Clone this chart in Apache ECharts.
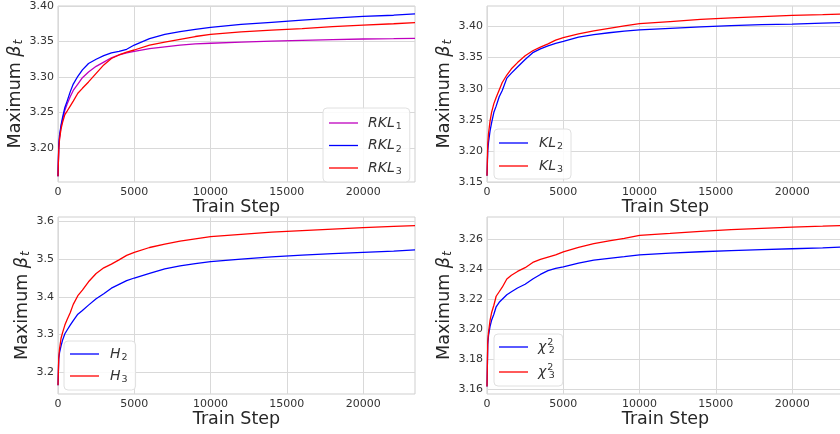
<!DOCTYPE html>
<html>
<head>
<meta charset="utf-8">
<script src="https://cdn.jsdelivr.net/npm/echarts@6/dist/echarts.min.js"></script>
<style>
  html, body { margin: 0; padding: 0; background: #fff; }
  #my_chart { width: 840px; height: 434px; }
</style>
</head>
<body>
<div id="my_chart"></div>
<script>
// train steps (x values shared by all curves)
var steps = [0, 50, 100, 200, 300, 450, 600, 800, 1000, 1300, 1600, 2000, 2500, 3000, 3500,
    4000, 4500, 5000, 6000, 7000, 8000, 9000, 10000, 12000, 14000, 16000, 18000, 20000, 22000, 23400];

// top-left
var rkl1 = [3.160, 3.200, 3.214, 3.230, 3.240, 3.253, 3.262, 3.272, 3.281, 3.290, 3.299, 3.307, 3.315, 3.321, 3.327,
    3.331, 3.334, 3.336, 3.340, 3.3425, 3.345, 3.3465, 3.3475, 3.349, 3.3505, 3.3515, 3.3525, 3.3535, 3.354, 3.3545];
var rkl2 = [3.160, 3.205, 3.218, 3.232, 3.243, 3.257, 3.266, 3.279, 3.290, 3.301, 3.310, 3.319, 3.325, 3.330, 3.334,
    3.336, 3.339, 3.345, 3.354, 3.360, 3.364, 3.367, 3.370, 3.374, 3.377, 3.380, 3.383, 3.3855, 3.387, 3.389];
var rkl3 = [3.160, 3.198, 3.212, 3.227, 3.236, 3.247, 3.252, 3.259, 3.266, 3.277, 3.284, 3.293, 3.305, 3.317, 3.326,
    3.331, 3.335, 3.338, 3.345, 3.349, 3.353, 3.357, 3.360, 3.3635, 3.366, 3.368, 3.371, 3.373, 3.375, 3.3765];
// top-right
var kl2 = [3.160, 3.200, 3.214, 3.232, 3.245, 3.262, 3.272, 3.287, 3.297, 3.317, 3.325, 3.335, 3.347, 3.358, 3.364,
    3.369, 3.373, 3.376, 3.383, 3.387, 3.390, 3.3925, 3.3945, 3.397, 3.3995, 3.4015, 3.403, 3.404, 3.4055, 3.4065];
var kl3 = [3.160, 3.212, 3.228, 3.248, 3.262, 3.276, 3.286, 3.298, 3.310, 3.322, 3.332, 3.342, 3.353, 3.361, 3.367,
    3.372, 3.378, 3.382, 3.388, 3.393, 3.397, 3.401, 3.4045, 3.408, 3.4115, 3.414, 3.416, 3.418, 3.419, 3.420];
// bottom-left
var h2 = [3.165, 3.235, 3.252, 3.270, 3.285, 3.302, 3.312, 3.325, 3.337, 3.354, 3.364, 3.378, 3.395, 3.408, 3.423,
    3.433, 3.443, 3.450, 3.462, 3.474, 3.482, 3.488, 3.4935, 3.500, 3.506, 3.511, 3.5145, 3.518, 3.5215, 3.5245];
var h3 = [3.165, 3.240, 3.262, 3.290, 3.305, 3.325, 3.340, 3.358, 3.380, 3.403, 3.418, 3.440, 3.462, 3.477, 3.487,
    3.498, 3.510, 3.518, 3.531, 3.540, 3.548, 3.554, 3.560, 3.566, 3.572, 3.576, 3.580, 3.584, 3.587, 3.589];
// bottom-right
var chi2 = [3.162, 3.190, 3.196, 3.202, 3.206, 3.210, 3.215, 3.218, 3.220, 3.223, 3.225, 3.2275, 3.230, 3.2335, 3.2365,
    3.239, 3.2405, 3.2415, 3.244, 3.246, 3.2472, 3.2483, 3.2495, 3.2507, 3.2516, 3.2524, 3.253, 3.2536, 3.2542, 3.2547];
var chi3 = [3.162, 3.192, 3.198, 3.206, 3.211, 3.216, 3.222, 3.225, 3.228, 3.2335, 3.236, 3.2385, 3.241, 3.2445, 3.2465,
    3.248, 3.2495, 3.2515, 3.2545, 3.257, 3.2588, 3.2605, 3.2625, 3.2638, 3.2652, 3.2663, 3.2672, 3.268, 3.2686, 3.2691];

// tick labels
var xTicks = [0, 5000, 10000, 15000, 20000];
var yTicks1 = [3.20, 3.25, 3.30, 3.35, 3.40];
var yTicks2 = [3.15, 3.20, 3.25, 3.30, 3.35, 3.40];
var yTicks3 = [3.2, 3.3, 3.4, 3.5, 3.6];
var yTicks4 = [3.16, 3.18, 3.20, 3.22, 3.24, 3.26];

var FONT = 'DejaVu Sans';
var TXT = '#262626';
var TICKC = '#333';
var GRIDC = '#d9d9d9';

var myChart = echarts.init(document.getElementById('my_chart'));

function pairs(vals) {
    var out = [];
    for (var i = 0; i < steps.length; i++) {
        out.push([steps[i], vals[i]]);
    }
    return out;
}

function xAxis(idx) {
    return {
        type: 'value', gridIndex: idx, min: 0, max: 23400,
        name: 'Train Step', nameLocation: 'middle', nameGap: 14,
        nameTextStyle: {fontFamily: FONT, fontSize: 17.5, color: TXT},
        axisLine: {show: false}, axisTick: {show: false, customValues: xTicks},
        axisLabel: {
            customValues: xTicks, fontFamily: FONT, fontSize: 11, color: TICKC, margin: 5,
            formatter: function (v) { return String(v); }
        },
        splitLine: {show: true, lineStyle: {color: GRIDC, width: 1}}
    };
}

function yAxis(idx, min, max, ticks, dec) {
    return {
        type: 'value', gridIndex: idx, min: min, max: max,
        name: '{n|Maximum }{b|β}{t|t}', nameLocation: 'middle', nameGap: 24,
        nameTextStyle: {
            rich: {
                n: {fontFamily: FONT, fontSize: 17.5, color: TXT},
                b: {fontFamily: FONT, fontSize: 17.5, fontStyle: 'italic', color: TXT},
                t: {fontFamily: FONT, fontSize: 12.5, fontStyle: 'italic', color: TXT, padding: [8, 0, 0, 1]}
            }
        },
        axisLine: {show: false}, axisTick: {show: false, customValues: ticks},
        axisLabel: {
            customValues: ticks, fontFamily: FONT, fontSize: 11, color: TICKC, margin: 4,
            formatter: function (v) { return v.toFixed(dec); }
        },
        splitLine: {show: true, lineStyle: {color: GRIDC, width: 1}}
    };
}

function line(name, vals, color, idx) {
    return {
        name: name, type: 'line', xAxisIndex: idx, yAxisIndex: idx,
        data: pairs(vals), showSymbol: false, symbol: 'none', animation: false,
        lineStyle: {color: color, width: 1.3}, itemStyle: {color: color}
    };
}

var labels = {
    'RKL1': '{i|RKL}{s|1}', 'RKL2': '{i|RKL}{s|2}', 'RKL3': '{i|RKL}{s|3}',
    'KL2': '{i|KL}{s|2}', 'KL3': '{i|KL}{s|3}',
    'H2': '{i|H}{s|2}', 'H3': '{i|H}{s|3}',
    'chi2': '{i|χ}{u|2}{s|2}', 'chi3': '{i|χ}{u|2}{s|3}'
};

function legend(names, left, top, padding, lh, gap, pad) {
    return {
        data: names, left: left, top: top, orient: 'vertical',
        icon: 'rect', itemWidth: 29, itemHeight: 1.3, itemGap: gap,
        padding: padding, backgroundColor: 'rgba(255,255,255,0.85)', borderColor: '#e0e0e0', borderWidth: 1, borderRadius: 4,
        selectedMode: false,
        formatter: function (n) { return labels[n]; },
        textStyle: {
            lineHeight: lh,
            rich: {
                i: {fontFamily: FONT, fontStyle: 'italic', fontSize: 14, color: TICKC, padding: [0, 0, 0, pad], lineHeight: lh},
                s: {fontFamily: FONT, fontSize: 9.5, color: TICKC, padding: [8, 0, 0, 1], lineHeight: lh},
                u: {fontFamily: FONT, fontSize: 9.5, color: TICKC, padding: [0, 0, 9, 1], width: 0.5, lineHeight: lh}
            }
        }
    };
}

var option = {
    backgroundColor: '#fff',
    animation: false,
    grid: [
        {left: 58, top: 6, width: 357, height: 176, show: true, borderColor: '#cfcfcf', borderWidth: 1, outerBoundsMode: 'none'},
        {left: 487, top: 6, width: 357, height: 176, show: true, borderColor: '#cfcfcf', borderWidth: 1, outerBoundsMode: 'none'},
        {left: 58, top: 217, width: 357, height: 177, show: true, borderColor: '#cfcfcf', borderWidth: 1, outerBoundsMode: 'none'},
        {left: 487, top: 217, width: 357, height: 177, show: true, borderColor: '#cfcfcf', borderWidth: 1, outerBoundsMode: 'none'}
    ],
    xAxis: [xAxis(0), xAxis(1), xAxis(2), xAxis(3)],
    yAxis: [
        yAxis(0, 3.152, 3.40, yTicks1, 2),
        yAxis(1, 3.15, 3.433, yTicks2, 2),
        yAxis(2, 3.142, 3.612, yTicks3, 1),
        yAxis(3, 3.157, 3.2747, yTicks4, 2)
    ],
    legend: [
        legend(['RKL1', 'RKL2', 'RKL3'], 323, 108, [6, 8, 5, 6], 16, 4.5, 5),
        legend(['KL2', 'KL3'], 494, 129, [5, 8, 4, 5], 16, 5, 6),
        legend(['H2', 'H3'], 64, 341, [4, 8, 5, 6], 16, 4, 6),
        legend(['chi2', 'chi3'], 494, 334, [3, 8, 4, 5], 20, 5, 5)
    ],
    series: [
        line('RKL1', rkl1, '#bf00bf', 0),
        line('RKL2', rkl2, '#0000ff', 0),
        line('RKL3', rkl3, '#ff0000', 0),
        line('KL2', kl2, '#0000ff', 1),
        line('KL3', kl3, '#ff0000', 1),
        line('H2', h2, '#0000ff', 2),
        line('H3', h3, '#ff0000', 2),
        line('chi2', chi2, '#0000ff', 3),
        line('chi3', chi3, '#ff0000', 3)
    ]
};
myChart.setOption(option);
</script>
</body>
</html>
